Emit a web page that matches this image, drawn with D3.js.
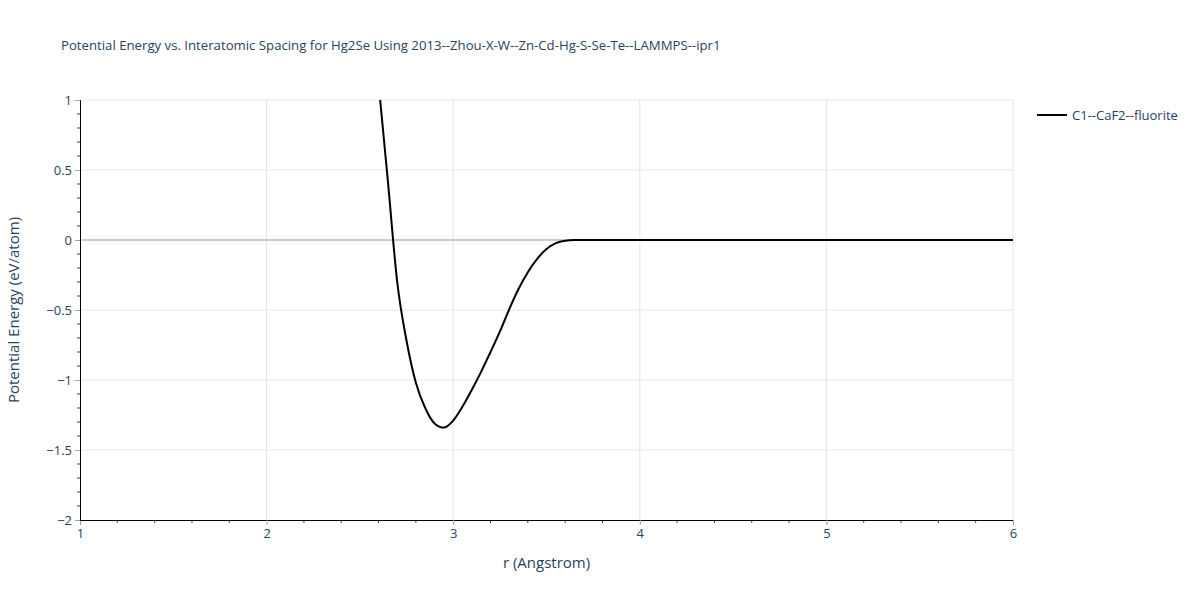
<!DOCTYPE html>
<html>
<head>
<meta charset="utf-8">
<script src="https://cdn.jsdelivr.net/npm/d3@7"></script>
<style>
  body { margin: 0; background: #fff; }
  text { font-family: "Open Sans", verdana, arial, sans-serif; fill: #2a3f5f; }
</style>
</head>
<body>
<div id="chart"></div>
<script>
// r (Angstrom) and energy (eV/atom)
var rValues = [2.60, 2.65, 2.70, 2.75, 2.80, 2.85, 2.90, 2.95, 3.00, 3.05, 3.10, 3.15,
               3.20, 3.25, 3.30, 3.35, 3.40, 3.45, 3.50, 3.55, 3.60, 3.65, 3.70, 4.0, 5.0, 6.0];
var energyValues = [1.12, 0.42, -0.30, -0.72, -1.02, -1.20, -1.31, -1.34, -1.29, -1.19, -1.07, -0.94,
                    -0.80, -0.655, -0.495, -0.35, -0.23, -0.135, -0.065, -0.022, -0.005, 0, 0, 0, 0, 0];
var seriesName = "C1--CaF2--fluorite";
var xTicks = [1, 2, 3, 4, 5, 6];
var yTicks = [1, 0.5, 0, -0.5, -1, -1.5, -2];
var titleText = "Potential Energy vs. Interatomic Spacing for Hg2Se Using 2013--Zhou-X-W--Zn-Cd-Hg-S-Se-Te--LAMMPS--ipr1";

function init() {
    var w = 1200, h = 600;
    var left = 80, right = 1013, top = 100, bottom = 520;

    var svg = d3.select("#chart").append("svg")
        .attr("width", w)
        .attr("height", h);

    var xScale = d3.scaleLinear().domain([1, 6]).range([left, right]);
    var yScale = d3.scaleLinear().domain([-2, 1]).range([bottom, top]);

    // grid
    svg.append("g").selectAll("line")
        .data(xTicks.filter(function (d) { return d > 1; }))
        .enter().append("line")
        .attr("x1", function (d) { return xScale(d); })
        .attr("x2", function (d) { return xScale(d); })
        .attr("y1", top).attr("y2", bottom)
        .attr("stroke", "#e5e5e5").attr("stroke-width", 1);

    svg.append("g").selectAll("line")
        .data(yTicks.filter(function (d) { return d > -2; }))
        .enter().append("line")
        .attr("x1", left).attr("x2", right)
        .attr("y1", function (d) { return yScale(d); })
        .attr("y2", function (d) { return yScale(d); })
        .attr("stroke", function (d) { return d === 0 ? "#cccccc" : "#e5e5e5"; })
        .attr("stroke-width", function (d) { return d === 0 ? 2 : 1; });

    // minor ticks
    var xMinor = d3.range(1.2, 6, 0.2).filter(function (d) { return Math.abs(d - Math.round(d)) > 0.01; });
    svg.append("g").selectAll("line")
        .data(xMinor)
        .enter().append("line")
        .attr("x1", function (d) { return xScale(d); })
        .attr("x2", function (d) { return xScale(d); })
        .attr("y1", bottom).attr("y2", bottom + 3)
        .attr("stroke", "#444");

    var yMinor = d3.range(-19, 10).map(function (i) { return i / 10; })
        .filter(function (d) { return Math.abs(d * 2 - Math.round(d * 2)) > 0.01; });
    svg.append("g").selectAll("line")
        .data(yMinor)
        .enter().append("line")
        .attr("x1", left - 3).attr("x2", left)
        .attr("y1", function (d) { return yScale(d); })
        .attr("y2", function (d) { return yScale(d); })
        .attr("stroke", "#444");

    // axes
    var xAxis = svg.append("g")
        .attr("transform", "translate(0," + bottom + ")")
        .call(d3.axisBottom(xScale).tickValues(xTicks).tickSize(5).tickPadding(4).tickFormat(d3.format("d")));
    var yAxis = svg.append("g")
        .attr("transform", "translate(" + left + ",0)")
        .call(d3.axisLeft(yScale).tickValues(yTicks).tickSize(5).tickPadding(3)
            .tickFormat(function (d) { return d < 0 ? "\u2212" + Math.abs(d) : d; }));

    [xAxis, yAxis].forEach(function (ax) {
        ax.select(".domain").attr("stroke", "#000").attr("stroke-width", 1);
        ax.selectAll(".tick line").attr("stroke", "#a0a0a0");
        ax.selectAll(".tick text").style("font-size", "13px").attr("fill", "#2a3f5f");
    });

    // curve
    svg.append("clipPath").attr("id", "clip")
        .append("rect").attr("x", left).attr("y", top)
        .attr("width", right - left).attr("height", bottom - top);

    var line = d3.line()
        .x(function (d) { return xScale(d[0]); })
        .y(function (d) { return yScale(d[1]); })
        .curve(d3.curveMonotoneX);

    svg.append("path")
        .datum(d3.zip(rValues, energyValues))
        .attr("clip-path", "url(#clip)")
        .attr("d", line)
        .attr("fill", "none")
        .attr("stroke", "#000")
        .attr("stroke-width", 2);

    // titles
    svg.append("text")
        .attr("x", 61).attr("y", 50)
        .style("font-size", "13.2px")
        .text(titleText);

    svg.append("text")
        .attr("x", (left + right) / 2).attr("y", 568)
        .attr("text-anchor", "middle")
        .style("font-size", "15px")
        .text("r (Angstrom)");

    svg.append("text")
        .attr("transform", "translate(19," + ((top + bottom) / 2) + ") rotate(-90)")
        .attr("text-anchor", "middle")
        .style("font-size", "15px")
        .text("Potential Energy (eV/atom)");

    // legend
    var legend = svg.append("g").attr("transform", "translate(1037,115)");
    legend.append("line")
        .attr("x1", 0).attr("x2", 30)
        .attr("stroke", "#000").attr("stroke-width", 2);
    legend.append("text")
        .attr("x", 35).attr("y", 4.5)
        .style("font-size", "13px")
        .text(seriesName);
}

window.onload = init;
</script>
</body>
</html>
